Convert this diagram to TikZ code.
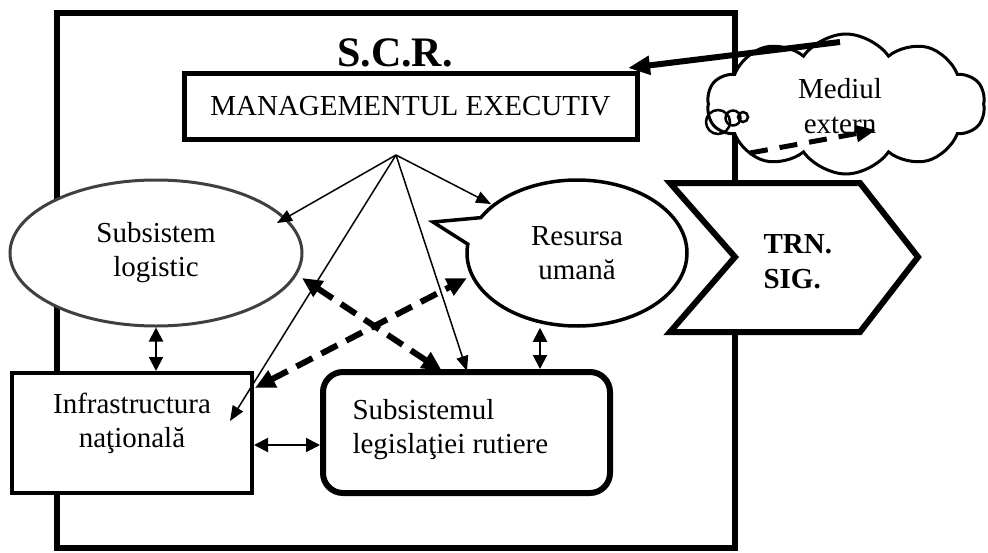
\documentclass[tikz,border=0pt]{standalone}
\usepackage{fontspec}
\setmainfont{Liberation Serif}
\usetikzlibrary{arrows.meta,shapes.geometric,shapes.callouts,shapes.symbols}
\begin{document}
\begin{tikzpicture}[x=1pt,y=-1pt,
  txt/.style={font=\fontsize{29}{34}\selectfont, align=center},
  thinarrow/.style={line width=1.5pt, -{Triangle[length=15pt,width=12pt]}},
  twoway/.style={line width=2pt, {Triangle[length=14pt,width=14pt]}-{Triangle[length=14pt,width=14pt]}},
  dashtwoway/.style={line width=6pt, dash pattern=on 18pt off 10pt,
    {Triangle[length=20pt,width=18pt]}-{Triangle[length=20pt,width=18pt]}},
]
\useasboundingbox (0,0) rectangle (988,552);

% outer frame of the system
\draw[line width=6pt] (56.5,12.5) rectangle (735,548);
\node[font=\fontsize{42}{46}\selectfont\bfseries, anchor=base] (scr) at (395,66) {S.C.R.};

% executive management
\node[draw, line width=5pt, fill=white, minimum width=453pt, minimum height=66pt, txt]
  (mg) at (410.5,106) {MANAGEMENTUL EXECUTIV};

% subsystems
\node[ellipse, draw=black!75, fill=white, line width=3pt, minimum width=292pt, minimum height=146pt,
  inner sep=0pt, txt] (logistic) at (156,253) {Subsistem\\logistic};

\node[ellipse callout, draw, fill=white, line width=3.5pt, minimum width=220pt, minimum height=146pt,
  inner sep=0pt, callout absolute pointer={(433,222)}, callout pointer arc=22, txt]
  (resursa) at (577,253) {Resursa\\umană};

\node[draw, fill=white, line width=4pt, minimum width=240pt, minimum height=120pt] (infra) at (132,433) {};
\node[txt] (infratext) at (132,423) {Infrastructura\\naţională};

\node[draw, fill=white, rounded corners=20pt, line width=6pt, minimum width=287pt, minimum height=121pt]
  (legis) at (466.5,432.5) {};
\node[txt, align=left, anchor=west] (legistext) at (349,430) {Subsistemul\\legislaţiei rutiere};

% links from management
\coordinate (apex) at (396,155);
\coordinate (toLog) at (277,223);
\coordinate (toRes) at (491,204);
\coordinate (toLeg) at (467,371);
\coordinate (toInf) at (230,421);
\draw[thinarrow] (apex) -- (toLog);
\draw[thinarrow] (apex) -- (toRes);
\draw[thinarrow] (apex) -- (toLeg);
\draw[thinarrow] (apex) -- (toInf);

% two-way links between subsystems
\coordinate (vx1) at (156,0);
\coordinate (vx2) at (540,0);
\coordinate (hy) at (0,445);
\draw[twoway] (vx1 |- logistic.south) -- (vx1 |- infra.north);
\draw[twoway] (vx2 |- resursa.south) -- (vx2 |- legis.north);
\draw[twoway] (infra.east |- hy) -- (legis.west |- hy);

\coordinate (dLog) at (302,278);
\coordinate (dLeg) at (442,371);
\coordinate (dInf) at (255,388);
\coordinate (dRes) at (467,278);
\draw[dashtwoway] (dLog) -- (dLeg);
\draw[dashtwoway] (dInf) -- (dRes);

% external environment
\node[cloud, cloud puffs=10, cloud puff arc=110, cloud ignores aspect, draw, line width=3pt, fill=white,
  minimum width=278pt, minimum height=140pt, inner sep=0pt] (cloud) at (846,104) {};
\draw[line width=2.5pt] (718,122) circle[radius=12pt];
\draw[line width=2.5pt] (733,118) circle[radius=7.5pt];
\draw[line width=2.5pt] (743,117) circle[radius=5pt];
\node[font=\fontsize{29}{35}\selectfont, align=center] (mediu) at (840,106) {Mediul\\extern};

\coordinate (cTail) at (840,42);
\coordinate (mgIn) at (628,68);
\draw[line width=6pt, -{Triangle[length=22pt,width=18pt]}] (cTail) -- (mgIn);
\coordinate (cdA) at (750,153);
\coordinate (cdB) at (876,130);
\draw[line width=5pt, dash pattern=on 18pt off 12pt, -{Triangle[length=20pt,width=16pt]}] (cdA) -- (cdB);

% signalling block
\draw[line width=6pt, fill=white, line join=miter]
  (670,183) -- (860,183) -- (918,257) -- (860,332) -- (670,332) -- (735,257) -- cycle;
\node[font=\fontsize{29}{35}\selectfont\bfseries, align=left, anchor=west] (trn) at (760,262) {TRN.\\SIG.};
\end{tikzpicture}
\end{document}
